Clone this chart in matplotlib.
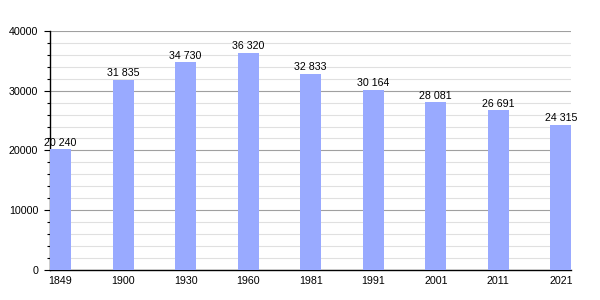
import matplotlib
matplotlib.use("Agg")
import matplotlib.pyplot as plt
from matplotlib.ticker import MultipleLocator

years = ["1849", "1900", "1930", "1960", "1981", "1991", "2001", "2011", "2021"]
population = [20240, 31835, 34730, 36320, 32833, 30164, 28081, 26691, 24315]
labels = ["20 240", "31 835", "34 730", "36 320", "32 833", "30 164", "28 081", "26 691", "24 315"]

plt.rcParams['font.family'] = ['Liberation Sans', 'DejaVu Sans']
fig = plt.figure(figsize=(6, 3), dpi=100)
ax = fig.add_axes([0.0833, 0.1, 0.869, 0.797])

w = 0.336
x = list(range(len(years)))
ax.bar(x, population, width=w, color="#99aaff", zorder=3)
for xi, v, lab in zip(x, population, labels):
    ax.annotate(lab, (xi, v), xytext=(0, 2.5), textcoords="offset points",
                ha="center", va="baseline", fontsize=7.7, zorder=4)

ax.set_xlim(-w / 2, len(years) - 1 + w / 2)
ax.set_ylim(0, 40000)
ax.set_xticks(x)
ax.set_xticklabels(years, fontsize=7.7)
ax.yaxis.set_major_locator(MultipleLocator(10000))
ax.yaxis.set_minor_locator(MultipleLocator(2000))
ax.set_yticklabels([f"{int(t)}" for t in ax.get_yticks()], fontsize=7.7)
ax.grid(axis="y", which="major", color="#a0a0a0", linewidth=0.8, zorder=0)
ax.grid(axis="y", which="minor", color="#e0e0e0", linewidth=0.8, zorder=0)
ax.tick_params(axis="x", length=0, pad=4)
ax.tick_params(axis="y", which="major", length=4.5, width=0.8, pad=4)
ax.tick_params(axis="y", which="minor", length=2.5, width=0.8)
for s in ["top", "right"]:
    ax.spines[s].set_visible(False)
ax.spines["left"].set_linewidth(1)
ax.spines["bottom"].set_linewidth(1)

fig.savefig("out.png", dpi=100)
